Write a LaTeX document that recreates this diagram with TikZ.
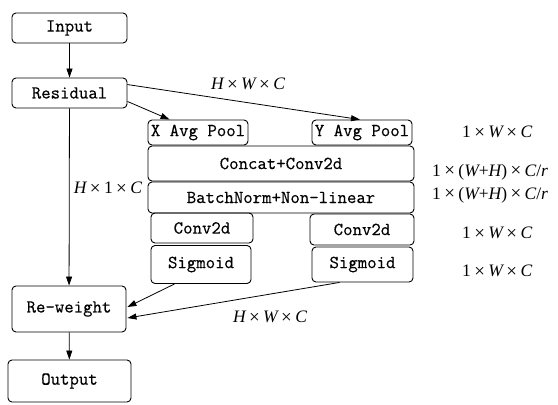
\documentclass[tikz,border=0pt]{standalone}
\usepackage{fontspec}
\setmainfont{Liberation Serif}
\newfontfamily\boxfont[FakeBold=0.4]{Latin Modern Mono}
\usetikzlibrary{arrows.meta,calc}
\newcommand{\Xm}{\makebox[1em]{\upshape\fontsize{19}{20}\selectfont\raisebox{-0.5pt}{×}}}
\begin{document}
\begin{tikzpicture}[x=1pt,y=-1pt,
  blk/.style={draw,line width=0.9pt,rounded corners=4pt,inner sep=0pt,
    font=\boxfont\fontsize{18.3}{20}\selectfont},
  dimlbl/.style={inner sep=0pt,font=\fontsize{17.5}{20}\selectfont\itshape},
  arr/.style={line width=0.8pt,-{Triangle[length=9pt,width=6pt]}}]
\useasboundingbox (0,0) rectangle (558,405);
\node[blk,minimum width=115,minimum height=30] (in) at (69.5,28) {Input};
\node[blk,minimum width=115,minimum height=30] (res) at (69.5,93) {Residual};
\node[blk,minimum width=100,minimum height=25] (xap) at (198,132.5) {X Avg Pool};
\node[blk,minimum width=100,minimum height=25] (yap) at (362,132.5) {Y Avg Pool};
\node[blk,minimum width=266,minimum height=35] (cat) at (281,163.5) {Concat+Conv2d};
\node[blk,minimum width=266,minimum height=31] (bn) at (281,197.5) {BatchNorm+Non-linear};
\node[blk,minimum width=102,minimum height=30] (c1) at (202,228) {Conv2d};
\node[blk,minimum width=100,minimum height=38] (s1) at (201,264.5) {Sigmoid};
\node[blk,minimum width=104,minimum height=31] (c2) at (362,229.5) {Conv2d};
\node[blk,minimum width=101,minimum height=35] (s2) at (362.5,264.5) {Sigmoid};
\node[blk,minimum width=114,minimum height=46] (rw) at (69,309) {Re-weight};
\node[blk,minimum width=123,minimum height=42] (out) at (69.5,381) {Output};

\coordinate (r1) at ($(res.north east)+(0,7)$);
\coordinate (r2) at ($(res.south east)+(0,-7)$);
\coordinate (xt) at ($(xap.north west)+(22,0)$);
\coordinate (yt) at ($(yap.north)+(-2,0)$);
\coordinate (s1b) at ($(s1.south west)+(24,0)$);
\coordinate (s2b) at ($(s2.south west)+(28,0)$);
\coordinate (rwa) at ($(rw.east)+(1,-2)$);
\coordinate (rwb) at ($(rw.east)+(1,9)$);

\draw[arr] (in) -- (res);
\draw[arr] (r1) -- (yt);
\draw[arr] (r2) -- (xt);
\draw[arr] (res) -- (rw);
\draw[arr] (s1b) -- (rwa);
\draw[arr] (s2b) -- (rwb);
\draw[arr] (rw) -- (out);

\node[dimlbl] (l1) at (248,84) {H\Xm W\Xm C};
\node[dimlbl] (l2) at (108,188) {H\Xm\upshape 1\Xm\itshape C};
\node[dimlbl] (l3) at (270,317) {H\Xm W\Xm C};
\node[dimlbl,anchor=west] (d1) at (462,132) {\upshape 1\Xm\itshape W\Xm C};
\node[dimlbl,anchor=west] (d2) at (432,172) {\upshape 1\Xm(\itshape W\upshape +\itshape H\upshape )\Xm\itshape C\upshape /\itshape r};
\node[dimlbl,anchor=west] (d3) at (432,195) {\upshape 1\Xm(\itshape W\upshape +\itshape H\upshape )\Xm\itshape C\upshape /\itshape r};
\node[dimlbl,anchor=west] (d4) at (462,233) {\upshape 1\Xm\itshape W\Xm C};
\node[dimlbl,anchor=west] (d5) at (462,271) {\upshape 1\Xm\itshape W\Xm C};
\end{tikzpicture}
\end{document}
